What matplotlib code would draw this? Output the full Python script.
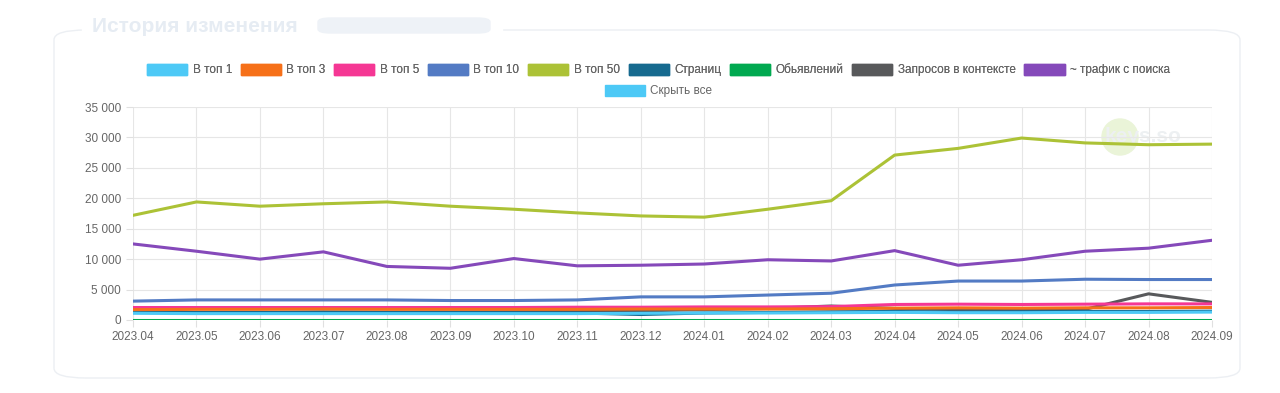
import matplotlib.pyplot as plt
from matplotlib.patches import FancyBboxPatch, Patch, Circle
from matplotlib.ticker import FuncFormatter, MultipleLocator

# === Data ===
months = ["2023.04", "2023.05", "2023.06", "2023.07", "2023.08", "2023.09",
          "2023.10", "2023.11", "2023.12", "2024.01", "2024.02", "2024.03",
          "2024.04", "2024.05", "2024.06", "2024.07", "2024.08", "2024.09"]

top1 = [1100, 1050, 1050, 1050, 1050, 1050, 1050, 1050, 1100, 1150, 1150, 1200,
        1250, 1200, 1200, 1250, 1250, 1300]
top3 = [1700, 1750, 1750, 1800, 1750, 1750, 1750, 1750, 1800, 1800, 1800, 1850,
        1950, 2000, 1950, 2000, 2000, 2050]
top5 = [2050, 2050, 2050, 2050, 2050, 2050, 2050, 2100, 2100, 2150, 2150, 2200,
        2550, 2600, 2550, 2600, 2650, 2650]
top10 = [3100, 3300, 3300, 3300, 3300, 3200, 3200, 3300, 3800, 3800, 4100, 4400,
         5750, 6400, 6400, 6700, 6650, 6650]
top50 = [17200, 19400, 18700, 19100, 19400, 18700, 18200, 17600, 17100, 16900,
         18200, 19600, 27100, 28200, 29900, 29100, 28800, 28900]
pages = [1300, 1250, 1250, 1300, 1250, 1250, 1200, 1150, 900, 1150, 1250, 1350,
         1400, 1300, 1350, 1400, 1400, 1450]
ads = [60, 60, 60, 60, 60, 60, 60, 60, 60, 60, 60, 60, 60, 60, 60, 60, 60, 60]
context = [1750, 1200, 1200, 1300, 1250, 1300, 1350, 1400, 1500, 1700, 1900, 2300,
           1900, 1700, 1700, 1750, 4300, 2900]
traffic = [12500, 11300, 10000, 11200, 8800, 8500, 10100, 8900, 9000, 9200, 9900,
           9700, 11400, 9000, 9900, 11300, 11800, 13100]

series = [
    ("В топ 1", top1, "#4dc9f6"),
    ("В топ 3", top3, "#f67019"),
    ("В топ 5", top5, "#f53794"),
    ("В топ 10", top10, "#537bc4"),
    ("В топ 50", top50, "#acc236"),
    ("Страниц", pages, "#166a8f"),
    ("Обьявлений", ads, "#00a950"),
    ("Запросов в контексте", context, "#58595b"),
    ("~ трафик с поиска", traffic, "#8549ba"),
]

# === Figure ===
fig = plt.figure(figsize=(12.8, 3.93), dpi=100)
plt.rcParams['font.family'] = ['Liberation Sans', 'DejaVu Sans']

# card frame
card = FancyBboxPatch((54 / 1280, 15 / 393), 1186 / 1280, 348 / 393,
                      boxstyle="round,pad=0,rounding_size=0.025",
                      transform=fig.transFigure, facecolor="none",
                      edgecolor="#eceff3", linewidth=1.0)
fig.patches.append(card)
# title sits on the border
fig.patches.append(plt.Rectangle((82 / 1280, 0.90), 420 / 1280, 0.1,
                                 transform=fig.transFigure, color="white"))
fig.text(92 / 1280, 1 - 26 / 393, "История изменения", fontsize=15,
         fontweight="bold", color="#e6ecf3", va="center")
fig.patches.append(FancyBboxPatch((318 / 1280, 1 - 33 / 393), 172 / 1280, 15 / 393,
                                  boxstyle="round,pad=0,rounding_size=0.01",
                                  transform=fig.transFigure, color="#eef2f7"))

# watermark behind the plot (pixel coords so the circle stays round)
fig.patches.append(Circle((1120, 393 - 137), 18, transform=None,
                          color="#eaf4d8", zorder=-2))
fig.text(1104 / 1280, 1 - 137 / 393, "keys.so", fontsize=15, fontweight="bold",
         color="#edf0f2", ha="left", va="center", zorder=-1)

ax = fig.add_axes([133 / 1280, 1 - 320 / 393, 1079 / 1280, 213 / 393])
ax.set_facecolor("none")
x = list(range(len(months)))
for i, (name, vals, col) in reversed(list(enumerate(series))):
    ax.plot(x, vals, color=col, linewidth=2.2, zorder=3 + (len(series) - i) * 0.01,
            solid_joinstyle="round")

ax.set_xlim(0, len(months) - 1)
ax.set_ylim(0, 35000)
ax.yaxis.set_major_locator(MultipleLocator(5000))
ax.yaxis.set_major_formatter(FuncFormatter(lambda v, p: f"{int(v):,}".replace(",", " ")))
ax.set_xticks(x)
ax.set_xticklabels(months)
ax.grid(True, color="#e6e6e6", linewidth=0.8)
for s in ax.spines.values():
    s.set_visible(False)
ax.tick_params(axis="both", colors="#e0e0e0", labelcolor="#666666",
               labelsize=8.5, length=5, width=0.8)
ax.tick_params(axis="x", pad=3)

# legend, two rows centred
handles = [Patch(facecolor=c, edgecolor=c, label=n) for n, _, c in series]
kw = dict(frameon=False, fontsize=8.5, handlelength=3.4, handleheight=1.1,
          handletextpad=0.45, columnspacing=0.75, labelcolor="#666666")
cx = 658.5 / 1280
leg1 = fig.legend(handles=handles, loc="center", ncol=9,
                  bbox_to_anchor=(cx, 1 - 70 / 393), **kw)
fig.add_artist(leg1)
fig.legend(handles=[Patch(facecolor="#4dc9f6", edgecolor="#4dc9f6", label="Скрыть все")],
           loc="center", bbox_to_anchor=(cx, 1 - 91 / 393), **kw)

fig.savefig("out.png", dpi=100)
